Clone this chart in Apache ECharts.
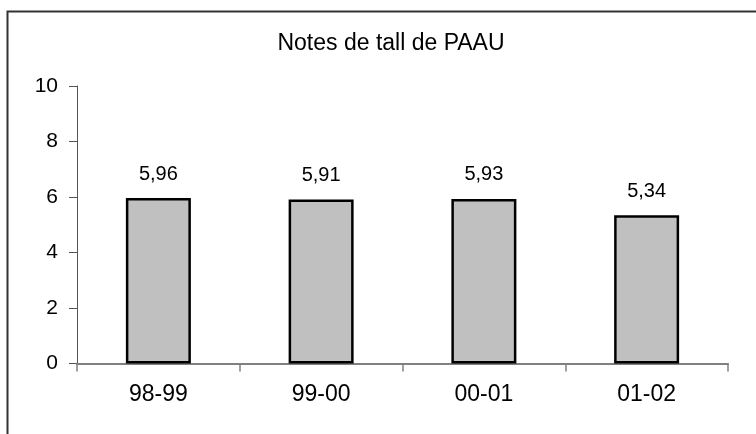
<!DOCTYPE html>
<html>
<head>
<meta charset="utf-8">
<script src="https://cdn.jsdelivr.net/npm/echarts@6/dist/echarts.min.js"></script>
<style>
  html, body { margin: 0; padding: 0; background: #fff; }
  #chart { width: 756px; height: 434px; }
</style>
</head>
<body>
<div id="chart"></div>
<script>
// cursos i notes de tall
const cursos = ['98-99', '99-00', '00-01', '01-02'];
const notes = [5.96, 5.91, 5.93, 5.34];
const yTicks = [0, 2, 4, 6, 8, 10];

const font = '"Liberation Sans", Arial, sans-serif';

const myChart = echarts.init(document.getElementById('chart'));
const option = {
  animation: false,
  backgroundColor: '#fff',
  title: {
    text: 'Notes de tall de PAAU',
    left: 386,
    top: 27,
    textAlign: 'center',
    textStyle: { fontFamily: font, fontSize: 23, fontWeight: 'normal', color: '#000' }
  },
  graphic: [{
    type: 'rect',
    shape: { x: 7.5, y: 11.5, width: 900, height: 600 },
    style: { fill: 'none', stroke: '#333', lineWidth: 2 },
    silent: true
  }],
  grid: { left: 77, right: 28, top: 86, bottom: 70.5 },
  xAxis: {
    type: 'category',
    data: cursos,
    axisLine: { lineStyle: { color: '#808080', width: 2 } },
    axisTick: { show: true, length: 8, lineStyle: { color: '#808080', width: 1.5 } },
    axisLabel: { margin: 20, fontFamily: font, fontSize: 23, color: '#000' }
  },
  yAxis: {
    type: 'value',
    min: yTicks[0],
    max: yTicks[yTicks.length - 1],
    interval: 2,
    splitLine: { show: false },
    axisLine: { show: true, lineStyle: { color: '#555', width: 1 } },
    axisTick: { show: true, length: 8, lineStyle: { color: '#555', width: 1 } },
    axisLabel: { margin: 19, fontFamily: font, fontSize: 21, color: '#000' }
  },
  series: [{
    type: 'bar',
    data: notes,
    barWidth: 65,
    itemStyle: { color: '#C0C0C0', borderColor: '#000', borderWidth: 2.5 },
    label: {
      show: true,
      position: 'top',
      distance: 14,
      fontFamily: font,
      fontSize: 20,
      color: '#000',
      formatter: p => p.value.toFixed(2).replace('.', ',')
    }
  }]
};
myChart.setOption(option);
</script>
</body>
</html>
